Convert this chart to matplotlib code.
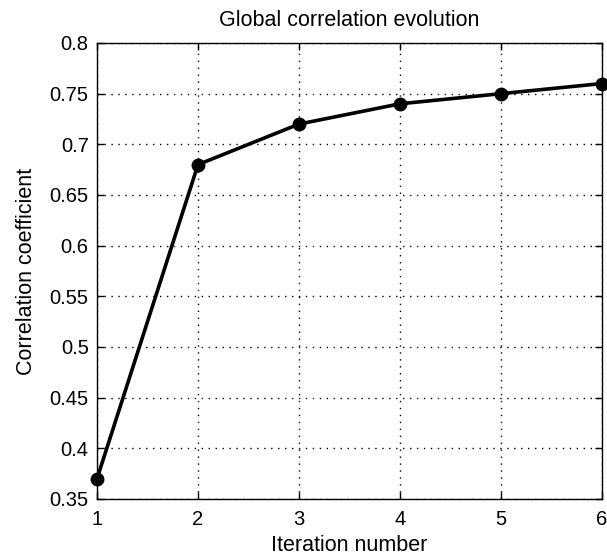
import numpy as np
import matplotlib
matplotlib.use("Agg")
import matplotlib.pyplot as plt

iterations = [1, 2, 3, 4, 5, 6]
correlation = [0.37, 0.68, 0.72, 0.74, 0.75, 0.76]
yticks = [0.35, 0.4, 0.45, 0.5, 0.55, 0.6, 0.65, 0.7, 0.75, 0.8]
ytick_labels = ["0.35", "0.4", "0.45", "0.5", "0.55", "0.6", "0.65", "0.7", "0.75", "0.8"]

plt.rcParams['font.family'] = ['Liberation Sans', 'DejaVu Sans']

fig = plt.figure(figsize=(6.07, 5.58), dpi=100)
# axes box in pixels: left 97, right 602, top 43, bottom 499
ax = fig.add_axes([97/607, 1 - 499/558, (602-97)/607, (499-43)/558])

ax.plot(iterations, correlation, color='black', linewidth=2.6, marker='o',
        markersize=9, clip_on=False, zorder=3)

ax.set_xlim(1, 6)
ax.set_ylim(0.35, 0.8)
ax.set_xticks(iterations)
ax.set_yticks(yticks)
ax.set_yticklabels(ytick_labels)
ax.tick_params(direction='in', top=True, right=True, length=5, width=1,
               labelsize=14.5, pad=6)
ax.tick_params(axis='x', pad=8)
ax.grid(True, linestyle=(0, (1, 4)), color='black', linewidth=1)
for s in ax.spines.values():
    s.set_linewidth(1)

ax.set_title("Global correlation evolution", fontsize=15.5, pad=12.5)
ax.set_xlabel("Iteration number", fontsize=15.5, labelpad=4.5)
ax.set_ylabel("Correlation coefficient", fontsize=15.5, labelpad=9)

fig.savefig("out.png", dpi=100)
